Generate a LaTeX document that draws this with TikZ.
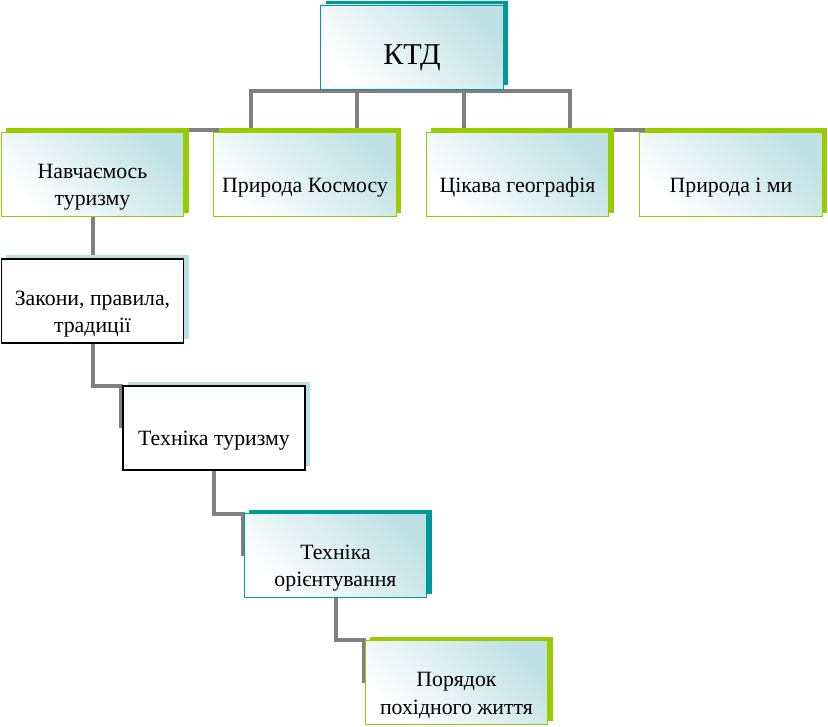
\documentclass[tikz,border=0pt]{standalone}
\usepackage{fontspec}
\setmainfont{Liberation Serif}
\usetikzlibrary{shadows,backgrounds}
\definecolor{tealbox}{HTML}{009999}
\definecolor{greenbox}{HTML}{99CC00}
\definecolor{paleblue}{HTML}{BBE0E3}
\definecolor{gradblue}{HTML}{BFE1E5}
\definecolor{linegray}{HTML}{808080}
\begin{document}
\begin{tikzpicture}[x=0.025cm,y=-0.025cm,
		box/.style={rectangle,minimum width=4.55cm,minimum height=2.1cm,inner sep=0pt,line width=.7pt},
		glossy/.style={box,draw=#1,top color=gradblue,bottom color=white,shading angle=-45,
			general shadow={fill=#1,shadow xshift=.125cm,shadow yshift=.1cm}},
		plain/.style={box,draw=black,fill=white,line width=1pt,
			general shadow={fill=paleblue,shadow xshift=.125cm,shadow yshift=.1cm}},
		lbl/.style={align=center,font=\fontsize{15.5}{19.5}\selectfont,yshift=-.32cm},
		conn/.style={draw=linegray,line width=.1cm}]
	\useasboundingbox (0,0) rectangle (828,726);
	% top row
	\node[glossy=tealbox,label={[lbl,font=\fontsize{21.5}{25}\selectfont,yshift=.05cm]center:КТД}] (ktd) at (412,47) {};
	\node[glossy=greenbox,label={[lbl]center:{Навчаємось\\туризму}}] (nav) at (92.5,174.5) {};
	\node[glossy=greenbox,label={[lbl]center:Природа Космосу}] (kos) at (305,174.5) {};
	\node[glossy=greenbox,label={[lbl]center:Цікава географія}] (geo) at (517.5,174.5) {};
	\node[glossy=greenbox,label={[lbl]center:Природа і ми}] (my) at (731,174.5) {};
	% steps
	\node[plain,label={[lbl]center:{Закони, правила,\\традиції}}] (zak) at (92.5,301) {};
	\node[plain,label={[lbl]center:Техніка туризму}] (tur) at (214,428) {};
	\node[glossy=tealbox,label={[lbl]center:{Техніка\\орієнтування}}] (ori) at (335.5,555.5) {};
	\node[glossy=greenbox,label={[lbl]center:{Порядок\\похідного життя}}] (por) at (456.5,682.5) {};
	\begin{scope}[on background layer]
		\draw[conn] (ktd.south) -- ++(0,1) -| (251,130) -| (nav.north);
		\draw[conn] (ktd.south) -- ++(0,1) -| ([xshift=1.3cm]kos.north);
		\draw[conn] (ktd.south) -- ++(0,1) -| ([xshift=-1.34cm]geo.north);
		\draw[conn] (ktd.south) -- ++(0,1) -| (570,130) -| (my.north);
		\draw[conn] (nav.south) -- (zak.north);
		\draw[conn] (zak.south) -- ++(0,42) -| ([xshift=-.03cm]tur.west);
		\draw[conn] (tur.south) -- ++(0,43) -| ([xshift=-.03cm]ori.west);
		\draw[conn] (ori.south) -- ++(0,42) -| ([xshift=-.03cm]por.west);
	\end{scope}
\end{tikzpicture}
\end{document}
